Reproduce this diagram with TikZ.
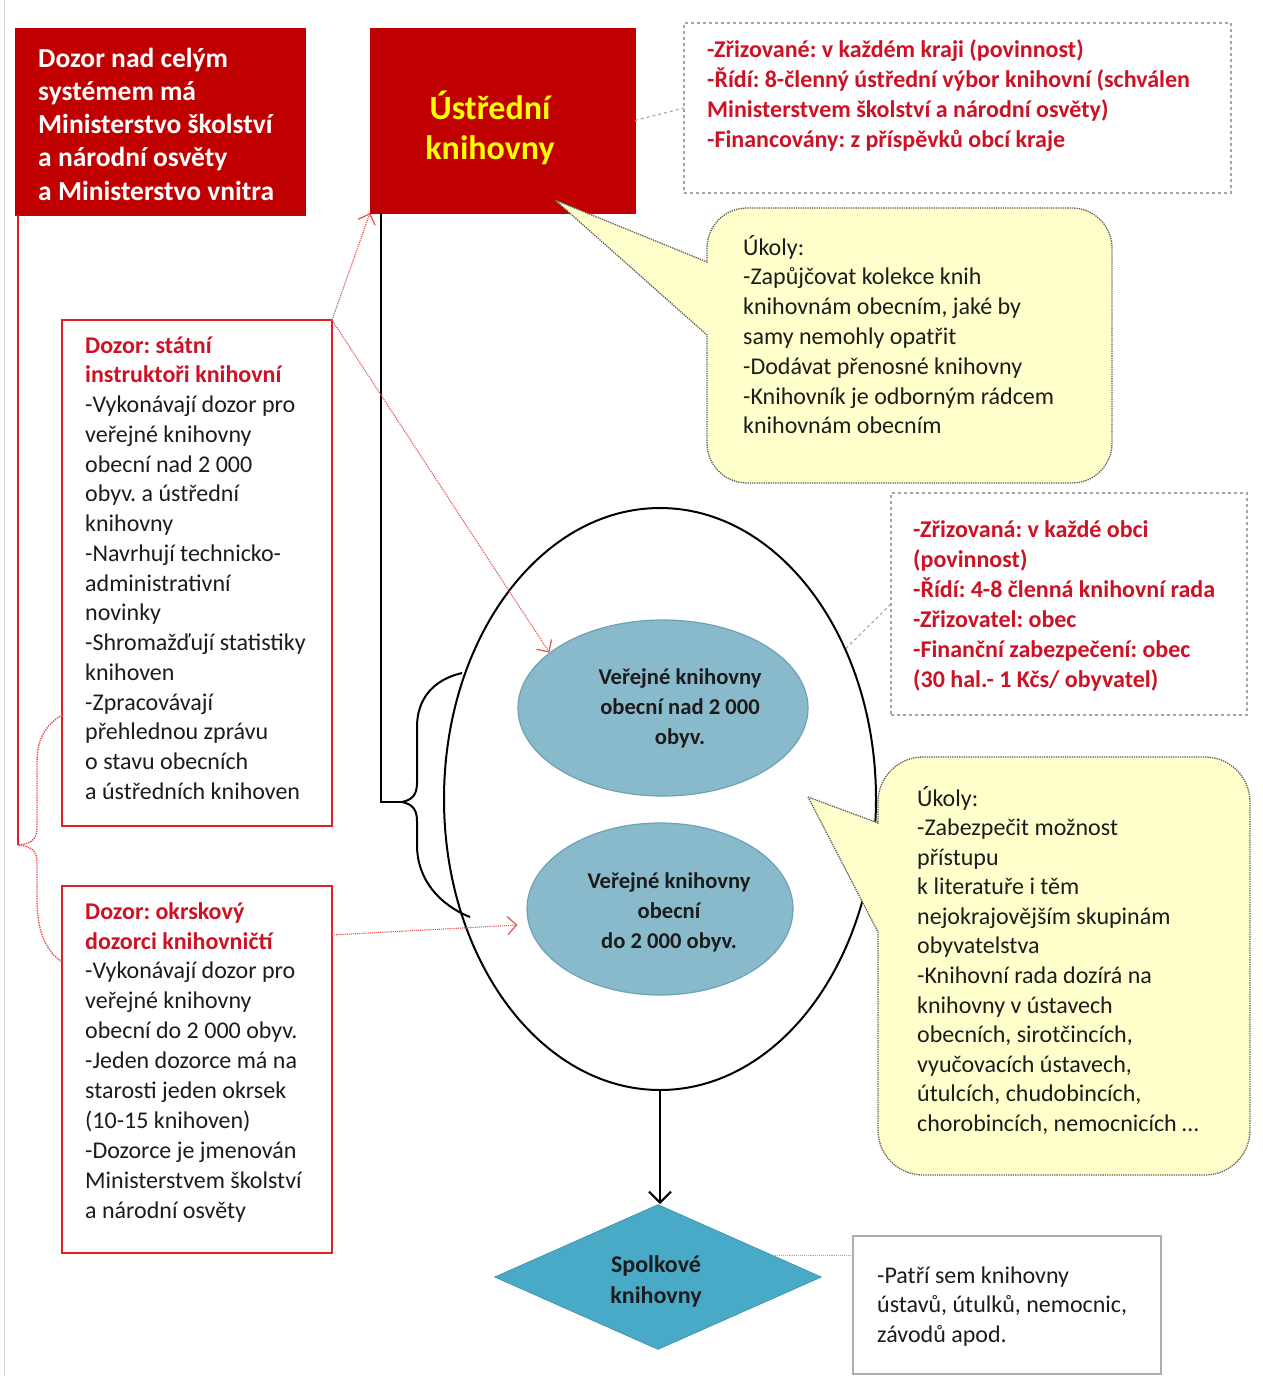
\documentclass[tikz,border=0pt]{standalone}
\usepackage{fontspec}
\setmainfont{Carlito}
\usetikzlibrary{shapes.geometric,arrows.meta,calc}
\frenchspacing
\definecolor{boxred}{RGB}{192,0,0}
\definecolor{txtred}{RGB}{204,18,36}
\definecolor{linered}{RGB}{226,32,40}
\definecolor{arrred}{RGB}{228,80,80}
\definecolor{callfill}{RGB}{255,255,204}
\definecolor{callline}{RGB}{95,95,95}
\definecolor{ellfill}{RGB}{137,186,203}
\definecolor{elldraw}{RGB}{108,162,182}
\definecolor{diafill}{RGB}{72,170,198}
\definecolor{dashgray}{RGB}{165,165,165}
\definecolor{txtdark}{RGB}{28,28,28}
\definecolor{titleyellow}{RGB}{255,255,0}
\newcommand{\redhd}[1]{\textcolor{txtred}{\textbf{#1}}}
\newcommand{\topstrut}{\rule{0pt}{0.92em}}
\begin{document}
\begin{tikzpicture}[x=1pt,y=-1pt,
  redfill/.style={draw=boxred,fill=boxred,inner sep=0pt,outer sep=0pt},
  redframe/.style={draw=linered,line width=2pt,fill=white,inner sep=0pt,outer sep=0pt},
  dashframe/.style={draw=dashgray,dashed,line width=1.1pt,inner sep=0pt,outer sep=0pt},
  grayframe/.style={draw=dashgray!90,line width=1.3pt,inner sep=0pt,outer sep=0pt},
  callout/.style={draw=callline,densely dotted,line width=1.3pt,fill=callfill},
  txt/.style={inner sep=0pt,anchor=north west,align=left,text=txtdark,font=\fontsize{24pt}{29.8pt}\selectfont},
  redtxt/.style={txt,text=txtred,font=\fontsize{24pt}{30pt}\selectfont\bfseries},
  ctxt/.style={inner sep=0pt,align=center,text=txtdark,font=\fontsize{22.6pt}{30pt}\selectfont\bfseries},
  tealell/.style={ellipse,draw=elldraw,line width=1.2pt,fill=ellfill,inner sep=0pt},
  redarrow/.style={draw=arrred,densely dotted,line width=1.1pt,-{Straight Barb[length=9pt,width=18pt,line width=1.2pt]}},
  dashconn/.style={draw=dashgray,dashed,line width=1.1pt},
  brace/.style={line width=2pt}
]
\useasboundingbox (0,0) rectangle (1263,1376);
\fill[white] (0,0) rectangle (1263,1376);
\draw[gray!35,line width=1pt] (4,0) -- (4,1376);

% top red boxes
\node[redfill,minimum width=290pt,minimum height=187pt] (b1) at (160,121.5) {};
\node[txt,text=white,font=\fontsize{27.5pt}{33.2pt}\selectfont\bfseries] (b1t) at (38,41.7)
  {\topstrut Dozor nad celým\\systémem má\\Ministerstvo školství\\a národní osvěty\\a Ministerstvo vnitra};
\node[redfill,minimum width=265pt,minimum height=185pt] (b2) at (502.5,120.5) {};
\node[inner sep=0pt,align=center,text=titleyellow,font=\fontsize{34pt}{40pt}\selectfont\bfseries] (b2t) at (490,128) {Ústřední\\knihovny};

% dashed info box 1
\node[dashframe,minimum width=547pt,minimum height=170pt] (db1) at (957.5,108) {};
\node[redtxt] (db1t) at (707,34.9) {\topstrut -Zřizované: v každém kraji (povinnost)\\-Řídí: 8-členný ústřední výbor knihovní (schválen\\Ministerstvem školství a národní osvěty)\\-Financovány: z příspěvků obcí kraje};
\draw[dashconn] (b2.east) -- (db1.west);

% callout 1
\draw[callout] (555,200) -- (707,262) -- (707,248) arc[start angle=180,end angle=270,radius=40]
  -- (1072,208) arc[start angle=270,end angle=360,radius=40]
  -- (1112,443) arc[start angle=0,end angle=90,radius=40]
  -- (747,483) arc[start angle=90,end angle=180,radius=40]
  -- (707,335) -- cycle;
\node[txt] (c1t) at (743,232.9) {\topstrut Úkoly:\\-Zapůjčovat kolekce knih\\knihovnám obecním, jaké by\\samy nemohly opatřit\\-Dodávat přenosné knihovny\\-Knihovník je odborným rádcem\\knihovnám obecním};

% left red boxes
\node[redframe,minimum width=270pt,minimum height=506pt] (b3) at (197,573) {};
\node[txt,font=\fontsize{24pt}{29.75pt}\selectfont] (b3t) at (85,330.9) {\topstrut\redhd{Dozor: státní}\\\redhd{instruktoři knihovní}\\-Vykonávají dozor pro\\veřejné knihovny\\obecní nad 2 000\\obyv. a ústřední\\knihovny\\-Navrhují technicko-\\administrativní\\novinky\\-Shromažďují statistiky\\knihoven\\-Zpracovávají\\přehlednou zprávu\\o stavu obecních\\a ústředních knihoven};
\node[redframe,minimum width=270pt,minimum height=367pt] (b4) at (197,1069.5) {};
\node[txt,font=\fontsize{24pt}{29.9pt}\selectfont] (b4t) at (85,896.9) {\topstrut\redhd{Dozor: okrskový}\\\redhd{dozorci knihovničtí}\\-Vykonávají dozor pro\\veřejné knihovny\\obecní do 2 000 obyv.\\-Jeden dozorce má na\\starosti jeden okrsek\\(10-15 knihoven)\\-Dozorce je jmenován\\Ministerstvem školství\\a národní osvěty};

% red line and dotted brace on the left
\coordinate (rtip) at (18,845);
\draw[linered,line width=2pt] (b1.south west -| rtip) -- (rtip);
\draw[arrred,densely dotted,line width=1.4pt] (b3.west |- 0,715) .. controls (45,725) and (37,740) .. (37,762) -- (37,828)
  .. controls (37,840) and (30,844) .. (rtip) .. controls (30,846) and (37,850) .. (37,862) -- (37,900)
  .. controls (37,930) and (45,950) .. (b4.west |- 0,962);

% big ellipse and inner ellipses
\node[ellipse,draw=black,line width=2pt,minimum width=432pt,minimum height=582pt,inner sep=0pt] (big) at (660,799) {};
\node[tealell,minimum width=290pt,minimum height=176pt] (e1) at (663,708) {};
\node[ctxt] (e1t) at (680,708) {Veřejné knihovny\\obecní nad 2 000\\obyv.};
\node[tealell,minimum width=266pt,minimum height=172pt] (e2) at (660,909) {};
\node[ctxt] (e2t) at (669,912) {Veřejné knihovny\\obecní\\do 2 000 obyv.};

% black line and brace
\coordinate (btip) at (402,802);
\draw[brace] ($(b2.south west)+(11,0)$) |- (btip);
\draw[brace] (462,673) .. controls (432,680) and (417,700) .. (417,727) -- (417,783)
  .. controls (417,796) and (411,800) .. (btip) .. controls (411,804) and (417,808) .. (417,821) -- (417,845)
  .. controls (417,880) and (440,905) .. (470,917);

% red dotted arrows
\draw[redarrow] (b3.north east) -- (b2.south west);
\draw[redarrow] (b3.north east) -- (e1.154);
\draw[redarrow] ($(b4.north east)+(0,49)$) -- ($(e2.west)+(-9,16)$);

% dashed info box 2
\node[dashframe,minimum width=356pt,minimum height=222pt] (db2) at (1069,604) {};
\node[redtxt] (db2t) at (913,514.9) {\topstrut -Zřizovaná: v každé obci\\(povinnost)\\-Řídí: 4-8 členná knihovní rada\\-Zřizovatel: obec\\-Finanční zabezpečení: obec\\(30 hal.- 1 Kčs/ obyvatel)};
\draw[dashconn] (big.39) -- (db2.west);

% callout 2
\draw[callout] (808,797) -- (878,823) -- (878,802) arc[start angle=180,end angle=270,radius=45]
  -- (1205,757) arc[start angle=270,end angle=360,radius=45]
  -- (1250,1130) arc[start angle=0,end angle=90,radius=45]
  -- (923,1175) arc[start angle=90,end angle=180,radius=45]
  -- (878,932) -- cycle;
\node[txt,font=\fontsize{24pt}{29.55pt}\selectfont] (c2t) at (917,783.9) {\topstrut Úkoly:\\-Zabezpečit možnost\\přístupu\\k literatuře i těm\\nejokrajovějším skupinám\\obyvatelstva\\-Knihovní rada dozírá na\\knihovny v ústavech\\obecních, sirotčincích,\\vyučovacích ústavech,\\útulcích, chudobincích,\\chorobincích, nemocnicích …};

% diamond and bottom box
\node[diamond,fill=diafill,draw=diafill!85!black,line width=0.6pt,minimum width=327pt,minimum height=145pt,inner sep=0pt] (dia) at (658,1277) {};
\node[ctxt,font=\fontsize{24pt}{31pt}\selectfont\bfseries] (diat) at (656,1281) {Spolkové\\knihovny};
\draw[line width=2.2pt,-{Straight Barb[length=11pt,width=22pt,line width=2.2pt]}] (big.south) -- (big.south |- dia.north);
\node[grayframe,minimum width=308pt,minimum height=138pt] (bb) at (1007,1305) {};
\node[txt,font=\fontsize{24pt}{29.5pt}\selectfont] (bbt) at (877,1260.9) {\topstrut -Patří sem knihovny\\ústavů, útulků, nemocnic,\\závodů apod.};
\coordinate (dconn) at ($(dia.north)!0.7!(dia.east)$);
\draw[dashgray,densely dotted,line width=1.1pt] (dconn) -- (dconn -| bb.west);
\end{tikzpicture}
\end{document}
